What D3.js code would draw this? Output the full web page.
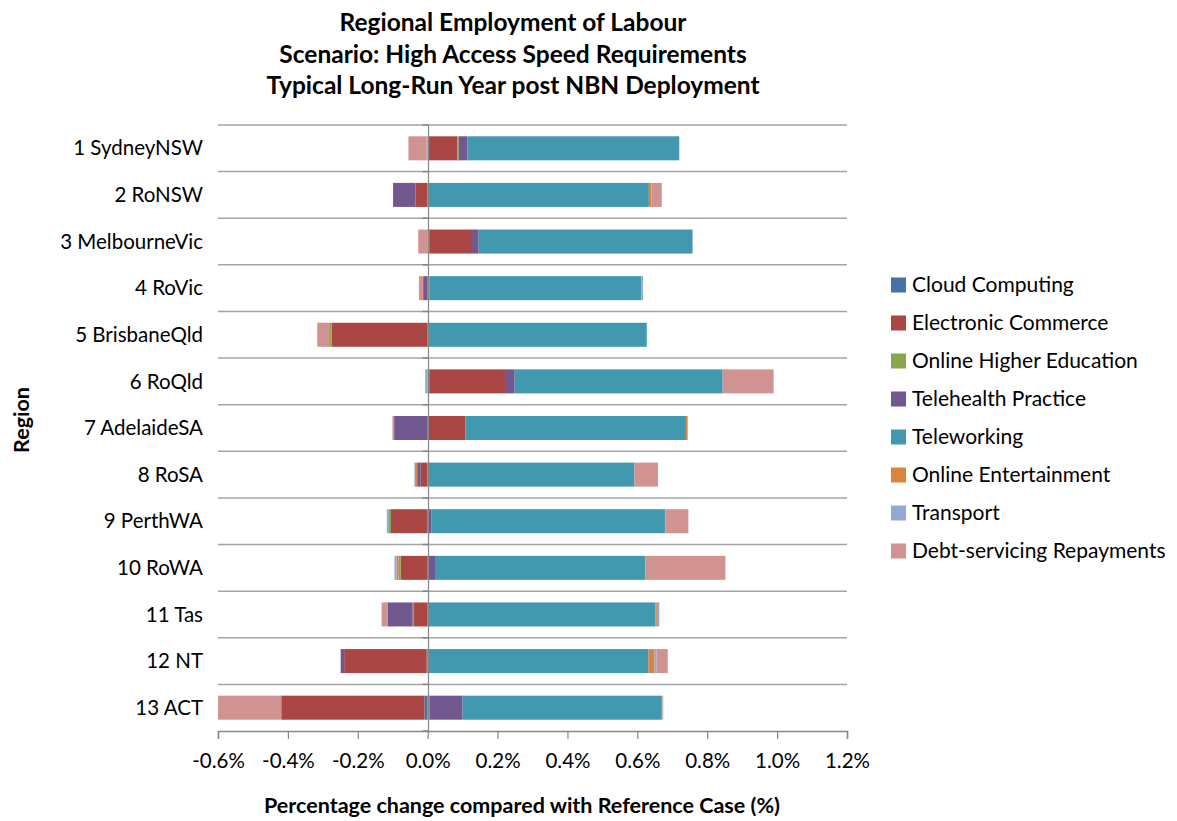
<!DOCTYPE html>
<html>
<head>
<meta charset="utf-8">
<script src="https://cdn.jsdelivr.net/npm/d3@7/dist/d3.min.js"></script>
<style>
  html, body { margin: 0; padding: 0; background: #fff; }
  svg { display: block; font-family: Lato, "Open Sans", sans-serif; }
</style>
</head>
<body>
<svg id="chart" width="1177" height="821"></svg>
<script>
// ---------- DATA ----------
const titleLines = [
  "Regional Employment of Labour",
  "Scenario: High Access Speed Requirements",
  "Typical Long-Run Year post NBN Deployment"
];
const regions = [
  "1 SydneyNSW", "2 RoNSW", "3 MelbourneVic", "4 RoVic", "5 BrisbaneQld",
  "6 RoQld", "7 AdelaideSA", "8 RoSA", "9 PerthWA", "10 RoWA",
  "11 Tas", "12 NT", "13 ACT"
];
const seriesNames = [
  "Cloud Computing", "Electronic Commerce", "Online Higher Education",
  "Telehealth Practice", "Teleworking", "Online Entertainment",
  "Transport", "Debt-servicing Repayments"
];
const seriesColors = ["#4572A7", "#AA4643", "#89A54E", "#71588F", "#4198AF", "#DB843D", "#93A9CF", "#D19392"];

// values in percent (%)
const cloudComputing      = [0.004, -0.002, 0.006, 0.000, 0.000, 0.006, 0.003, -0.002, -0.002, -0.002, 0.000, -0.003, -0.009];
const electronicCommerce  = [0.081, -0.033, 0.118, 0.000, -0.275, 0.218, 0.105, -0.018, -0.103, -0.075, -0.039, -0.236, -0.410];
const onlineHigherEd      = [0.004, 0.000, 0.000, 0.006, -0.007, 0.000, 0.000, 0.000, -0.006, -0.006, -0.004, 0.000, 0.005];
const telehealthPractice  = [0.025, -0.064, 0.022, -0.013, 0.000, 0.025, -0.096, -0.010, 0.010, 0.021, -0.072, -0.010, 0.095];
const teleworking         = [0.606, 0.633, 0.612, 0.606, 0.627, 0.595, 0.631, 0.592, 0.669, 0.602, 0.652, 0.632, 0.570];
const onlineEntertainment = [0.000, 0.007, 0.000, 0.000, 0.000, 0.000, 0.005, -0.006, 0.002, -0.006, 0.004, 0.017, 0.002];
const transport           = [-0.003, 0.000, 0.000, 0.004, 0.000, -0.007, 0.000, -0.002, -0.006, -0.006, 0.007, 0.006, 0.002];
const debtRepayments      = [-0.052, 0.030, -0.027, -0.012, -0.034, 0.146, -0.005, 0.067, 0.065, 0.229, -0.017, 0.032, -0.185];

const xTicks = [-0.6, -0.4, -0.2, 0.0, 0.2, 0.4, 0.6, 0.8, 1.0, 1.2];
const xAxisTitle = "Percentage change compared with Reference Case (%)";
const yAxisTitle = "Region";

// ---------- BUILD TABLE ----------
const seriesValues = [cloudComputing, electronicCommerce, onlineHigherEd, telehealthPractice,
                      teleworking, onlineEntertainment, transport, debtRepayments];
const table = regions.map((r, i) => {
  const row = { region: r };
  seriesNames.forEach((s, k) => { row[s] = seriesValues[k][i]; });
  return row;
});

// ---------- LAYOUT ----------
const svg = d3.select("#chart");
const plot = { left: 218, right: 847, top: 125, bottom: 731 };

const x = d3.scaleLinear().domain([-0.6, 1.2]).range([plot.left, plot.right]);
const y = d3.scaleBand().domain(regions).range([plot.top, plot.bottom])
  .paddingInner(0.485).paddingOuter(0.2425);
const color = d3.scaleOrdinal().domain(seriesNames).range(seriesColors);

const stacked = d3.stack().keys(seriesNames).offset(d3.stackOffsetDiverging)(table);

// clip
svg.append("defs").append("clipPath").attr("id", "plotclip")
  .append("rect").attr("x", plot.left).attr("y", plot.top)
  .attr("width", plot.right - plot.left).attr("height", plot.bottom - plot.top);

// horizontal gridlines at category boundaries
const step = y.step();
const boundaries = d3.range(regions.length).map(i => plot.top + i * step);
svg.append("g").selectAll("line").data(boundaries).join("line")
  .attr("x1", plot.left).attr("x2", plot.right)
  .attr("y1", d => d).attr("y2", d => d)
  .attr("stroke", "#a3a3a3").attr("stroke-width", 1.5);

// bars
svg.append("g").attr("clip-path", "url(#plotclip)")
  .selectAll("g").data(stacked).join("g")
  .attr("fill", d => color(d.key))
  .selectAll("rect").data(d => d).join("rect")
  .attr("x", d => x(Math.min(d[0], d[1])))
  .attr("width", d => Math.abs(x(d[1]) - x(d[0])))
  .attr("y", d => y(d.data.region))
  .attr("height", y.bandwidth());

// vertical axis at zero
const zx = Math.round(x(0)) + 0.5;
svg.append("line").attr("x1", zx).attr("x2", zx).attr("y1", plot.top).attr("y2", plot.bottom + 2)
  .attr("stroke", "#868686").attr("stroke-width", 1.2);
svg.append("g").selectAll("line").data(boundaries.concat([plot.bottom])).join("line")
  .attr("x1", zx - 6).attr("x2", zx).attr("y1", d => d).attr("y2", d => d)
  .attr("stroke", "#868686").attr("stroke-width", 1.5);

// bottom axis
const xAxis = d3.axisBottom(x).tickValues(xTicks).tickSize(8).tickPadding(14)
  .tickFormat(d => d3.format(".1f")(d).replace("\u2212", "-") + "%");
const gx = svg.append("g").attr("transform", `translate(0,${plot.bottom})`).call(xAxis);
gx.select(".domain").attr("stroke", "#868686").attr("stroke-width", 1.5);
gx.selectAll(".tick line").attr("stroke", "#868686").attr("stroke-width", 1.2);
gx.selectAll(".tick text").attr("font-size", 20.5).attr("fill", "#000")
  .attr("font-family", "Lato, sans-serif");

// category labels
svg.append("g").selectAll("text").data(regions).join("text")
  .attr("x", 203).attr("y", d => y(d) + y.bandwidth() / 2)
  .attr("dy", "0.35em").attr("text-anchor", "end")
  .attr("font-size", 20.5).attr("fill", "#000").text(d => d);

// title
svg.append("g").selectAll("text").data(titleLines).join("text")
  .attr("x", 513).attr("y", (d, i) => 31 + i * 31.5)
  .attr("text-anchor", "middle").attr("font-weight", "bold")
  .attr("font-size", 24.5).attr("fill", "#000").text(d => d);

// axis titles
svg.append("text").attr("x", 522).attr("y", 813).attr("text-anchor", "middle")
  .attr("font-weight", "bold").attr("font-size", 21.5).attr("fill", "#000").text(xAxisTitle);
svg.append("text").attr("transform", "translate(29,420) rotate(-90)")
  .attr("text-anchor", "middle").attr("font-weight", "bold").attr("font-size", 21.5)
  .attr("fill", "#000").text(yAxisTitle);

// legend
const legend = svg.append("g").selectAll("g").data(seriesNames).join("g")
  .attr("transform", (d, i) => `translate(891,${285 + i * 38})`);
legend.append("rect").attr("x", 0).attr("y", -7.5).attr("width", 15).attr("height", 15)
  .attr("fill", d => color(d));
legend.append("text").attr("x", 21).attr("y", 0).attr("dy", "0.35em")
  .attr("font-size", 21).attr("fill", "#000").text(d => d);
</script>
</body>
</html>
